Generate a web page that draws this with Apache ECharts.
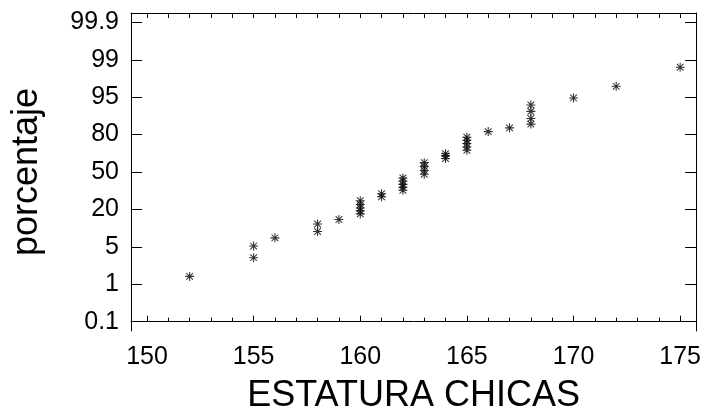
<!DOCTYPE html>
<html>
<head>
<meta charset="utf-8">
<script src="https://cdn.jsdelivr.net/npm/echarts@6/dist/echarts.min.js"></script>
<style>
  html, body { margin: 0; padding: 0; background: #fff; }
  #chart { width: 704px; height: 419px; }
</style>
</head>
<body>
<div id="chart"></div>
<script>
// probability scale labels, placed at 0..8 on the y axis
const yLabels = ['0.1', '1', '5', '20', '50', '80', '95', '99', '99.9'];
const xTicks = [150, 155, 160, 165, 170, 175];
const xMinorTicks = [];
for (let v = 150; v <= 175; v++) xMinorTicks.push(v);

// heights and their position on the probability scale
const estatura = [
  152, 155, 155, 156, 158, 158, 159,
  160, 160, 160, 160, 160, 161, 161,
  162, 162, 162, 162, 162, 163, 163, 163, 163,
  164, 164, 164, 165, 165, 165, 165, 165,
  166, 167, 168, 168, 168, 168, 170, 172, 175
];
const posicion = [
  1.21, 2.02, 1.71, 2.24, 2.61, 2.41, 2.73,
  3.23, 3.13, 3.04, 2.96, 2.88, 3.42, 3.34,
  3.84, 3.76, 3.67, 3.59, 3.51, 4.25, 4.15, 4.04, 3.94,
  4.49, 4.43, 4.36, 4.93, 4.85, 4.76, 4.67, 4.58,
  5.08, 5.18, 5.79, 5.62, 5.43, 5.28, 5.98, 6.29, 6.80
];

const asterisk = 'path://M0 4.4L10 4.4L10 5.6L0 5.6Z' +
  'M4.4 0L5.6 0L5.6 10L4.4 10Z' +
  'M0.9 1.7L1.7 0.9L9.1 8.3L8.3 9.1Z' +
  'M8.3 0.9L9.1 1.7L1.7 9.1L0.9 8.3Z';

const font = 'Liberation Sans, Arial, sans-serif';
const line = { show: true, lineStyle: { color: '#000', width: 1 } };

const chart = echarts.init(document.getElementById('chart'));
chart.setOption({
  animation: false,
  backgroundColor: '#fff',
  grid: { left: 131, right: 7, top: 13, bottom: 82 },
  xAxis: [
    {
      type: 'value', position: 'bottom', min: 149.25, max: 175.75,
      axisLine: line,
      axisTick: { inside: true, length: 6, customValues: xTicks, lineStyle: { color: '#000' } },
      axisLabel: { customValues: xTicks, fontSize: 25, color: '#000', fontFamily: font, margin: 14 },
      splitLine: { show: false },
      name: 'ESTATURA CHICAS', nameLocation: 'middle', nameGap: 47,
      nameTextStyle: { fontSize: 36, color: '#000', fontFamily: font }
    },
    {
      type: 'value', position: 'bottom', min: 149.25, max: 175.75,
      axisLine: { show: false },
      axisTick: { inside: true, length: 4, customValues: xMinorTicks, lineStyle: { color: '#000' } },
      axisLabel: { show: false },
      splitLine: { show: false }
    },
    {
      type: 'value', position: 'top', min: 149.25, max: 175.75,
      axisLine: line,
      axisTick: { inside: true, length: 5, customValues: xMinorTicks, lineStyle: { color: '#000' } },
      axisLabel: { show: false },
      splitLine: { show: false }
    }
  ],
  yAxis: [
    {
      type: 'value', position: 'left', min: -0.25, max: 8.25,
      axisLine: line,
      axisTick: { inside: true, length: 11, customValues: [0, 1, 2, 3, 4, 5, 6, 7, 8], lineStyle: { color: '#000' } },
      axisLabel: {
        customValues: [0, 1, 2, 3, 4, 5, 6, 7, 8],
        formatter: v => yLabels[Math.round(v)],
        fontSize: 25, color: '#000', fontFamily: font, margin: 12
      },
      splitLine: { show: false },
      name: 'porcentaje', nameLocation: 'middle', nameGap: 86,
      nameTextStyle: { fontSize: 36, color: '#000', fontFamily: font }
    },
    {
      type: 'value', position: 'right', min: -0.25, max: 8.25,
      axisLine: line,
      axisTick: { inside: true, length: 11, customValues: [0, 1, 2, 3, 4, 5, 6, 7, 8], lineStyle: { color: '#000' } },
      axisLabel: { show: false },
      splitLine: { show: false }
    }
  ],
  series: [{
    type: 'scatter',
    xAxisIndex: 0,
    yAxisIndex: 0,
    symbol: asterisk,
    symbolSize: 9,
    itemStyle: { color: '#000' },
    data: estatura.map((v, i) => [v, posicion[i]])
  }]
});
</script>
</body>
</html>
